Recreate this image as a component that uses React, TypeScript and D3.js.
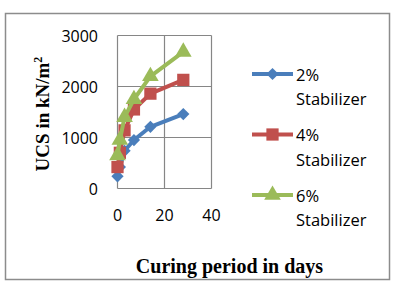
import React, { useEffect, useRef } from 'react';
import * as d3 from 'd3';

// curing period (days) and UCS (kN/m²) for each stabilizer dosage
const days = [0, 1, 3, 7, 14, 28];
const ucs2 = [240, 420, 740, 950, 1210, 1460];
const ucs4 = [420, 700, 1140, 1550, 1860, 2130];
const ucs6 = [650, 950, 1400, 1750, 2200, 2680];
const seriesNames = ['2%', '4%', '6%'];
const xTicks = [0, 20, 40];
const yTicks = [0, 1000, 2000, 3000];

const colors = ['#4A7EBB', '#C0504D', '#9BBB59'];
// the diamond is a square turned 45°
const symbols = [d3.symbolSquare, d3.symbolSquare, d3.symbolTriangle];
const rotations = [45, 0, 0];
const symbolSizes = [75, 150, 120];

const W = 396;
const H = 282;

const App = () => {
  const ref = useRef<SVGSVGElement>(null);

  useEffect(() => {
    document.body.style.margin = '0';
    const svg = d3.select(ref.current);
    svg.selectAll('*').remove();

    // outer frame
    svg.append('rect')
      .attr('x', 5.5).attr('y', 13.5)
      .attr('width', 384).attr('height', 266)
      .attr('fill', 'white')
      .attr('stroke', '#8c8c8c')
      .attr('stroke-width', 1.5);

    const x = d3.scaleLinear().domain([0, 40]).range([117.5, 211.5]);
    const y = d3.scaleLinear().domain([0, 3000]).range([188.5, 35.5]);

    const grid = svg.append('g').attr('stroke', '#868686').attr('stroke-width', 1.2);
    grid.selectAll('.gy').data(yTicks).enter().append('line')
      .attr('x1', x(0)).attr('x2', x(40))
      .attr('y1', d => y(d)).attr('y2', d => y(d));
    grid.selectAll('.gx').data(xTicks).enter().append('line')
      .attr('x1', d => x(d)).attr('x2', d => x(d))
      .attr('y1', y(0)).attr('y2', y(3000));

    const tickFont = '"Open Sans", sans-serif';
    svg.append('g').selectAll('text').data(yTicks).enter().append('text')
      .attr('x', 98).attr('y', d => y(d) + 6)
      .attr('text-anchor', 'end')
      .attr('font-family', tickFont).attr('font-size', 16)
      .attr('fill', '#000')
      .text(d => d);
    svg.append('g').selectAll('text').data(xTicks).enter().append('text')
      .attr('x', d => x(d)).attr('y', 221)
      .attr('text-anchor', 'middle')
      .attr('font-family', tickFont).attr('font-size', 16)
      .attr('fill', '#000')
      .text(d => d);

    const allSeries = [ucs2, ucs4, ucs6];
    const line = d3.line<number>()
      .x((_, i) => x(days[i]))
      .y(d => y(d));

    allSeries.forEach((vals, s) => {
      const g = svg.append('g');
      g.append('path')
        .datum(vals)
        .attr('d', line)
        .attr('fill', 'none')
        .attr('stroke', colors[s])
        .attr('stroke-width', 4)
        .attr('stroke-linejoin', 'round');
      g.selectAll('path.m').data(vals).enter().append('path')
        .attr('class', 'm')
        .attr('d', d3.symbol().type(symbols[s]).size(symbolSizes[s]))
        .attr('transform', (d, i) => `translate(${x(days[i])},${y(d)}) rotate(${rotations[s]})`)
        .attr('fill', colors[s]);
    });

    // legend
    const legend = svg.append('g');
    seriesNames.forEach((name, s) => {
      const ly = 74 + s * 60.5;
      legend.append('line')
        .attr('x1', 252).attr('x2', 293)
        .attr('y1', ly).attr('y2', ly)
        .attr('stroke', colors[s]).attr('stroke-width', 4);
      legend.append('path')
        .attr('d', d3.symbol().type(symbols[s]).size(symbolSizes[s])())
        .attr('transform', `translate(272.5,${ly}) rotate(${rotations[s]})`)
        .attr('fill', colors[s]);
      legend.append('text')
        .attr('x', 296).attr('y', ly + 6.5)
        .attr('font-family', tickFont).attr('font-size', 16.5)
        .text(name);
      legend.append('text')
        .attr('x', 296).attr('y', ly + 31)
        .attr('font-family', tickFont).attr('font-size', 16.5)
        .text('Stabilizer');
    });

    // axis titles
    const yTitle = svg.append('text')
      .attr('transform', 'translate(49,114) rotate(-90)')
      .attr('text-anchor', 'middle')
      .attr('font-family', '"Liberation Serif", "Times New Roman", serif')
      .attr('font-weight', 'bold')
      .attr('font-size', 19);
    yTitle.append('tspan').text('UCS in kN/m');
    yTitle.append('tspan').attr('font-size', 12).attr('dy', -7).text('2');

    svg.append('text')
      .attr('x', 229.5).attr('y', 273)
      .attr('text-anchor', 'middle')
      .attr('font-family', '"Liberation Serif", "Times New Roman", serif')
      .attr('font-weight', 'bold')
      .attr('font-size', 20)
      .text('Curing period in days');
  }, []);

  return <svg ref={ref} width={W} height={H} style={{ display: 'block' }} />;
};

export default App;
